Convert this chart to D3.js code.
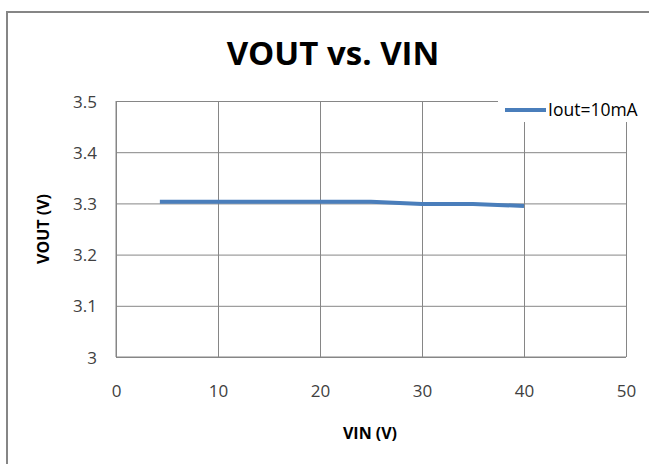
<!DOCTYPE html>
<html>
  <head>
    <meta charset="utf-8">
    <title>VOUT vs. VIN</title>
    <script src="https://d3js.org/d3.v7.min.js"></script>
    <style>
      body { margin: 0; background: #fff; }
      text { font-family: "Open Sans", "Noto Sans", sans-serif; }
    </style>
  </head>
  <body>
    <script>
      // data
      var vin = [4.3, 5, 10, 15, 20, 25, 30, 35, 40];
      var vout = [3.303, 3.303, 3.303, 3.303, 3.303, 3.303, 3.299, 3.299, 3.295];
      var xTicks = [0, 10, 20, 30, 40, 50];
      var yTicks = [3, 3.1, 3.2, 3.3, 3.4, 3.5];
      var seriesName = "Iout=10mA";

      var width = 649, height = 464;
      var plot = {left: 116, right: 626, top: 101, bottom: 357};

      var svg = d3.select("body").append("svg")
        .attr("width", width)
        .attr("height", height);

      var x = d3.scaleLinear().domain([0, 50]).range([plot.left, plot.right]);
      var y = d3.scaleLinear().domain([3, 3.5]).range([plot.bottom, plot.top]);

      // chart frame
      svg.append("rect")
        .attr("x", 7).attr("y", 12)
        .attr("width", 680).attr("height", 500)
        .attr("fill", "#fff")
        .attr("stroke", "#868686")
        .attr("stroke-width", 2);

      // title
      svg.append("text")
        .attr("x", 333).attr("y", 65)
        .attr("text-anchor", "middle")
        .attr("font-size", 33)
        .attr("font-weight", "bold")
        .attr("fill", "#000")
        .text("VOUT  vs.  VIN");

      // gridlines
      var gx = svg.append("g")
        .attr("transform", "translate(0," + plot.bottom + ")")
        .call(d3.axisBottom(x).tickValues(xTicks).tickSize(-(plot.bottom - plot.top)).tickFormat(d3.format("d")));
      var gy = svg.append("g")
        .attr("transform", "translate(" + plot.left + ",0)")
        .call(d3.axisLeft(y).tickValues(yTicks).tickSize(-(plot.right - plot.left)).tickFormat(function(d) { return d === 3 ? "3" : d3.format(".1f")(d); }));

      [gx, gy].forEach(function(g) {
        g.select(".domain").remove();
        g.selectAll(".tick line").attr("stroke", "#868686").attr("stroke-width", 1);
        g.selectAll(".tick text")
          .attr("fill", "#404040")
          .attr("font-size", 17)
          .style("font-family", "'Open Sans', sans-serif");
      });
      gx.selectAll(".tick text").attr("dy", 0).attr("y", 40);
      gy.selectAll(".tick text").attr("x", -19).attr("dy", "0.36em");

      // plot area outline (left and bottom sides)
      svg.append("path")
        .attr("d", "M" + plot.left + "," + plot.top + "V" + plot.bottom + "H" + plot.right)
        .attr("fill", "none")
        .attr("stroke", "#868686");

      // axis titles
      svg.append("text")
        .attr("transform", "translate(49," + ((plot.top + plot.bottom) / 2) + ") rotate(-90)")
        .attr("text-anchor", "middle")
        .attr("font-size", 16)
        .attr("font-weight", "bold")
        .attr("fill", "#000")
        .text("VOUT (V)");
      svg.append("text")
        .attr("x", 370).attr("y", 439)
        .attr("text-anchor", "middle")
        .attr("font-size", 16)
        .attr("font-weight", "bold")
        .attr("fill", "#000")
        .text("VIN (V)");

      // series line
      var line = d3.line()
        .x(function(d, i) { return x(vin[i]); })
        .y(function(d) { return y(d); });
      svg.append("path")
        .datum(vout)
        .attr("d", line)
        .attr("fill", "none")
        .attr("stroke", "#4a7ebb")
        .attr("stroke-width", 4);

      // legend
      var legend = svg.append("g");
      legend.append("rect")
        .attr("x", 498).attr("y", 96)
        .attr("width", 145).attr("height", 26)
        .attr("fill", "#fff");
      legend.append("line")
        .attr("x1", 505).attr("x2", 546)
        .attr("y1", 110).attr("y2", 110)
        .attr("stroke", "#4a7ebb")
        .attr("stroke-width", 4);
      legend.append("text")
        .attr("x", 548).attr("y", 116)
        .attr("font-size", 17.5)
        .attr("fill", "#000")
        .text(seriesName);
    </script>
  </body>
</html>
